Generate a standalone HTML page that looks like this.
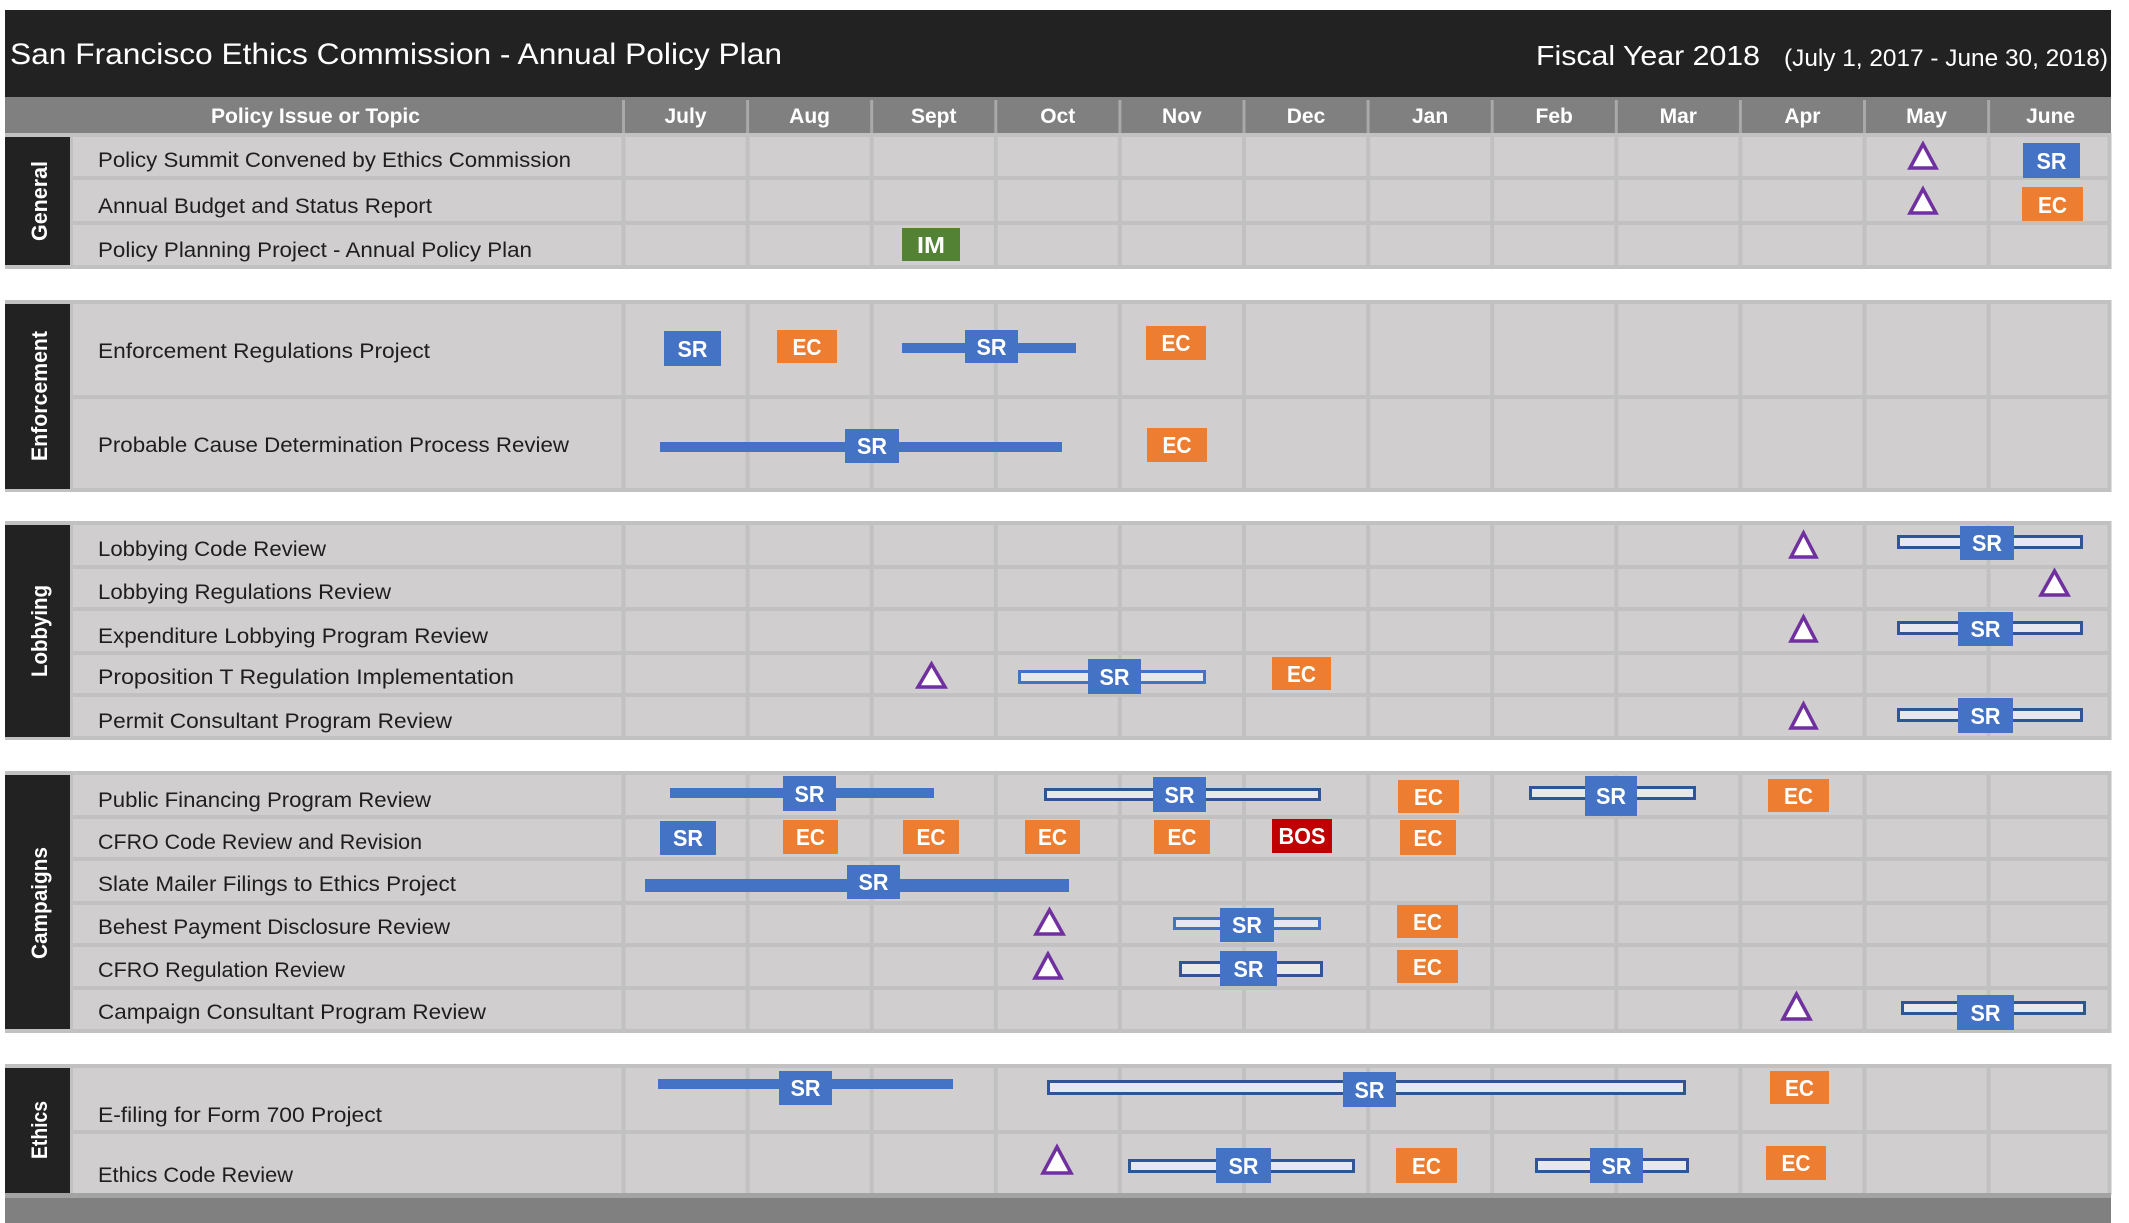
<!DOCTYPE html>
<html><head><meta charset="utf-8"><style>
html,body{margin:0;padding:0;background:#fff;}
svg{display:block;}
text{font-family:"Liberation Sans",sans-serif;}
.lbl{font-size:21px;fill:#1e1e1e;}
.mon{font-size:21px;font-weight:bold;fill:#fff;text-anchor:middle;}
.sec{font-size:22px;font-weight:bold;fill:#fff;text-anchor:middle;}
.bt{font-size:23px;font-weight:bold;fill:#fff;text-anchor:middle;}
.sr{fill:#4472c4;}
.ec{fill:#ed7d31;}
.tri{fill:#fff;stroke:#7030a0;stroke-width:3.5;stroke-linejoin:miter;}
.hol{fill:#e6e8ee;stroke:#2f5597;stroke-width:3;}
.hol2{fill:#e6e8ee;stroke:#4472c4;stroke-width:3;}
.grid{stroke:#c2c1c1;stroke-width:4;fill:none;}
</style></head><body>
<svg width="2129" height="1223" viewBox="0 0 2129 1223" xmlns="http://www.w3.org/2000/svg">
<rect x="0" y="0" width="2129" height="1223" fill="#fff"/>
<!-- title bar -->
<rect x="5" y="10" width="2106" height="87" fill="#222"/>
<text x="10" y="64" font-size="30" fill="#fff" textLength="772" lengthAdjust="spacingAndGlyphs">San Francisco Ethics Commission - Annual Policy Plan</text>
<text x="1536" y="65" font-size="28" fill="#fff" textLength="224" lengthAdjust="spacingAndGlyphs">Fiscal Year 2018</text>
<text x="1784" y="66" font-size="24" fill="#fff" textLength="324" lengthAdjust="spacingAndGlyphs">(July 1, 2017 - June 30, 2018)</text>
<!-- header -->
<rect x="5" y="97" width="2106" height="36" fill="#808080"/>
<path d="M623.5 100V133M747.6 100V133M871.7 100V133M995.8 100V133M1119.9 100V133M1244 100V133M1368.1 100V133M1492.2 100V133M1616.3 100V133M1740.4 100V133M1864.5 100V133M1988.6 100V133" stroke="#a9a9a9" stroke-width="3"/>
<text x="315.5" y="123" class="mon" textLength="209" lengthAdjust="spacingAndGlyphs">Policy Issue or Topic</text>
<text x="685.5" y="123" class="mon">July</text>
<text x="809.6" y="123" class="mon">Aug</text>
<text x="933.7" y="123" class="mon">Sept</text>
<text x="1057.8" y="123" class="mon">Oct</text>
<text x="1181.9" y="123" class="mon">Nov</text>
<text x="1306" y="123" class="mon">Dec</text>
<text x="1430.1" y="123" class="mon">Jan</text>
<text x="1554.2" y="123" class="mon">Feb</text>
<text x="1678.3" y="123" class="mon">Mar</text>
<text x="1802.4" y="123" class="mon">Apr</text>
<text x="1926.5" y="123" class="mon">May</text>
<text x="2050.6" y="123" class="mon">June</text>

<!-- body background -->
<rect x="5" y="133" width="2106" height="1062" fill="#d0cece"/>
<!-- vertical grid -->
<path class="grid" d="M71 133V1195M623.5 133V1195M747.6 133V1195M871.7 133V1195M995.8 133V1195M1119.9 133V1195M1244 133V1195M1368.1 133V1195M1492.2 133V1195M1616.3 133V1195M1740.4 133V1195M1864.5 133V1195M1988.6 133V1195M2109.5 133V1195"/>
<!-- horizontal grid -->
<path class="grid" d="M5 135H2111M70 178H2111M70 223H2111M5 267H2111
M5 302H2111M70 397H2111M5 490H2111
M5 523H2111M70 567H2111M70 609H2111M70 653H2111M70 695H2111M5 738H2111
M5 773H2111M70 817H2111M70 859H2111M70 903H2111M70 945H2111M70 988H2111M5 1031H2111
M5 1066H2111M70 1132H2111"/>
<!-- white gaps -->
<rect x="0" y="269" width="2129" height="31" fill="#fff"/>
<rect x="0" y="492" width="2129" height="29" fill="#fff"/>
<rect x="0" y="740" width="2129" height="31" fill="#fff"/>
<rect x="0" y="1033" width="2129" height="31" fill="#fff"/>
<!-- bottom bar -->
<rect x="5" y="1193" width="2106" height="30" fill="#808080"/>
<rect x="5" y="1193" width="2106" height="5" fill="#a3a3a3"/>

<!-- section label boxes -->
<rect x="5" y="137" width="65" height="128" fill="#222"/>
<rect x="5" y="304" width="65" height="185" fill="#222"/>
<rect x="5" y="525" width="65" height="212" fill="#222"/>
<rect x="5" y="775" width="65" height="254" fill="#222"/>
<rect x="5" y="1068" width="65" height="125" fill="#222"/>
<text class="sec" transform="translate(47,201) rotate(-90)" textLength="80" lengthAdjust="spacingAndGlyphs">General</text>
<text class="sec" transform="translate(47,396) rotate(-90)" textLength="130" lengthAdjust="spacingAndGlyphs">Enforcement</text>
<text class="sec" transform="translate(47,631) rotate(-90)" textLength="92" lengthAdjust="spacingAndGlyphs">Lobbying</text>
<text class="sec" transform="translate(47,903) rotate(-90)" textLength="112" lengthAdjust="spacingAndGlyphs">Campaigns</text>
<text class="sec" transform="translate(47,1130) rotate(-90)" textLength="58" lengthAdjust="spacingAndGlyphs">Ethics</text>

<!-- row labels -->
<text x="98" y="167" class="lbl" textLength="473" lengthAdjust="spacingAndGlyphs">Policy Summit Convened by Ethics Commission</text>
<text x="98" y="213" class="lbl" textLength="334" lengthAdjust="spacingAndGlyphs">Annual Budget and Status Report</text>
<text x="98" y="257" class="lbl" textLength="434" lengthAdjust="spacingAndGlyphs">Policy Planning Project - Annual Policy Plan</text>
<text x="98" y="358" class="lbl" textLength="332" lengthAdjust="spacingAndGlyphs">Enforcement Regulations Project</text>
<text x="98" y="452" class="lbl" textLength="471" lengthAdjust="spacingAndGlyphs">Probable Cause Determination Process Review</text>
<text x="98" y="556" class="lbl" textLength="228" lengthAdjust="spacingAndGlyphs">Lobbying Code Review</text>
<text x="98" y="599" class="lbl" textLength="293" lengthAdjust="spacingAndGlyphs">Lobbying Regulations Review</text>
<text x="98" y="643" class="lbl" textLength="390" lengthAdjust="spacingAndGlyphs">Expenditure Lobbying Program Review</text>
<text x="98" y="684" class="lbl" textLength="416" lengthAdjust="spacingAndGlyphs">Proposition T Regulation Implementation</text>
<text x="98" y="728" class="lbl" textLength="354" lengthAdjust="spacingAndGlyphs">Permit Consultant Program Review</text>
<text x="98" y="807" class="lbl" textLength="333" lengthAdjust="spacingAndGlyphs">Public Financing Program Review</text>
<text x="98" y="849" class="lbl" textLength="324" lengthAdjust="spacingAndGlyphs">CFRO Code Review and Revision</text>
<text x="98" y="891" class="lbl" textLength="358" lengthAdjust="spacingAndGlyphs">Slate Mailer Filings to Ethics Project</text>
<text x="98" y="934" class="lbl" textLength="352" lengthAdjust="spacingAndGlyphs">Behest Payment Disclosure Review</text>
<text x="98" y="977" class="lbl" textLength="247" lengthAdjust="spacingAndGlyphs">CFRO Regulation Review</text>
<text x="98" y="1019" class="lbl" textLength="388" lengthAdjust="spacingAndGlyphs">Campaign Consultant Program Review</text>
<text x="98" y="1122" class="lbl" textLength="284" lengthAdjust="spacingAndGlyphs">E-filing for Form 700 Project</text>
<text x="98" y="1182" class="lbl" textLength="195" lengthAdjust="spacingAndGlyphs">Ethics Code Review</text>

<!-- ===== General ===== -->
<polygon class="tri" points="1923,144 1910,168 1936,168"/>
<rect class="sr" x="2023" y="143" width="57" height="35"/><text class="bt" x="2051.5" y="169" textLength="30" lengthAdjust="spacingAndGlyphs">SR</text>
<polygon class="tri" points="1923,189 1910,213 1936,213"/>
<rect class="ec" x="2022" y="187" width="61" height="34"/><text class="bt" x="2052.5" y="213" textLength="29" lengthAdjust="spacingAndGlyphs">EC</text>
<rect x="902" y="228" width="58" height="33" fill="#548235"/><text class="bt" x="931" y="253" textLength="28" lengthAdjust="spacingAndGlyphs">IM</text>

<!-- ===== Enforcement ===== -->
<rect class="sr" x="664" y="331" width="57" height="35"/><text class="bt" x="692.5" y="357" textLength="30" lengthAdjust="spacingAndGlyphs">SR</text>
<rect class="ec" x="777" y="330" width="60" height="33"/><text class="bt" x="807" y="355" textLength="29" lengthAdjust="spacingAndGlyphs">EC</text>
<rect class="sr" x="902" y="343" width="174" height="10"/>
<rect class="sr" x="965" y="330" width="53" height="33"/><text class="bt" x="991.5" y="355" textLength="30" lengthAdjust="spacingAndGlyphs">SR</text>
<rect class="ec" x="1146" y="326" width="60" height="34"/><text class="bt" x="1176" y="351" textLength="29" lengthAdjust="spacingAndGlyphs">EC</text>
<rect class="sr" x="660" y="442" width="402" height="10"/>
<rect class="sr" x="845" y="429" width="54" height="34"/><text class="bt" x="872" y="454" textLength="30" lengthAdjust="spacingAndGlyphs">SR</text>
<rect class="ec" x="1147" y="428" width="60" height="34"/><text class="bt" x="1177" y="453" textLength="29" lengthAdjust="spacingAndGlyphs">EC</text>

<!-- ===== Lobbying ===== -->
<polygon class="tri" points="1803.5,533 1791,557 1816,557"/>
<rect class="hol" x="1898.5" y="536.5" width="183" height="11"/>
<rect class="sr" x="1960" y="526" width="54" height="34"/><text class="bt" x="1987" y="551" textLength="30" lengthAdjust="spacingAndGlyphs">SR</text>
<polygon class="tri" points="2054.5,571 2041,595 2068,595"/>
<polygon class="tri" points="1803.5,617 1791,641 1816,641"/>
<rect class="hol" x="1898.5" y="622.5" width="183" height="11"/>
<rect class="sr" x="1958" y="612" width="55" height="34"/><text class="bt" x="1985.5" y="637" textLength="30" lengthAdjust="spacingAndGlyphs">SR</text>
<polygon class="tri" points="931.5,664 918,687 945,687"/>
<rect class="hol2" x="1019.5" y="671.5" width="185" height="11"/>
<rect class="sr" x="1088" y="659" width="53" height="35"/><text class="bt" x="1114.5" y="685" textLength="30" lengthAdjust="spacingAndGlyphs">SR</text>
<rect class="ec" x="1272" y="657" width="59" height="33"/><text class="bt" x="1301.5" y="682" textLength="29" lengthAdjust="spacingAndGlyphs">EC</text>
<polygon class="tri" points="1803.5,704 1791,728 1816,728"/>
<rect class="hol" x="1898.5" y="709.5" width="183" height="11"/>
<rect class="sr" x="1958" y="698" width="55" height="35"/><text class="bt" x="1985.5" y="724" textLength="30" lengthAdjust="spacingAndGlyphs">SR</text>

<!-- ===== Campaigns ===== -->
<rect class="sr" x="670" y="788" width="264" height="10"/>
<rect class="sr" x="783" y="776" width="53" height="35"/><text class="bt" x="809.5" y="802" textLength="30" lengthAdjust="spacingAndGlyphs">SR</text>
<rect class="hol" x="1045.5" y="789.5" width="274" height="10"/>
<rect class="sr" x="1153" y="777" width="53" height="35"/><text class="bt" x="1179.5" y="803" textLength="30" lengthAdjust="spacingAndGlyphs">SR</text>
<rect class="ec" x="1398" y="780" width="61" height="33"/><text class="bt" x="1428.5" y="805" textLength="29" lengthAdjust="spacingAndGlyphs">EC</text>
<rect class="hol" x="1530.5" y="787.5" width="164" height="11"/>
<rect class="sr" x="1585" y="776" width="52" height="40"/><text class="bt" x="1611" y="804" textLength="30" lengthAdjust="spacingAndGlyphs">SR</text>
<rect class="ec" x="1768" y="779" width="61" height="33"/><text class="bt" x="1798.5" y="804" textLength="29" lengthAdjust="spacingAndGlyphs">EC</text>

<rect class="sr" x="660" y="821" width="56" height="34"/><text class="bt" x="688" y="846" textLength="30" lengthAdjust="spacingAndGlyphs">SR</text>
<rect class="ec" x="783" y="820" width="55" height="34"/><text class="bt" x="810.5" y="845" textLength="29" lengthAdjust="spacingAndGlyphs">EC</text>
<rect class="ec" x="903" y="820" width="56" height="34"/><text class="bt" x="931" y="845" textLength="29" lengthAdjust="spacingAndGlyphs">EC</text>
<rect class="ec" x="1025" y="820" width="55" height="34"/><text class="bt" x="1052.5" y="845" textLength="29" lengthAdjust="spacingAndGlyphs">EC</text>
<rect class="ec" x="1154" y="820" width="56" height="34"/><text class="bt" x="1182" y="845" textLength="29" lengthAdjust="spacingAndGlyphs">EC</text>
<rect x="1272" y="819" width="60" height="34" fill="#c00000"/><text class="bt" x="1302" y="844" textLength="47" lengthAdjust="spacingAndGlyphs">BOS</text>
<rect class="ec" x="1400" y="820" width="56" height="35"/><text class="bt" x="1428" y="846" textLength="29" lengthAdjust="spacingAndGlyphs">EC</text>

<rect class="sr" x="645" y="879" width="424" height="13"/>
<rect class="sr" x="847" y="865" width="53" height="34"/><text class="bt" x="873.5" y="890" textLength="30" lengthAdjust="spacingAndGlyphs">SR</text>

<polygon class="tri" points="1049.5,910 1036,934 1063,934"/>
<rect class="hol2" x="1174.5" y="918.5" width="145" height="10"/>
<rect class="sr" x="1220" y="908" width="54" height="34"/><text class="bt" x="1247" y="933" textLength="30" lengthAdjust="spacingAndGlyphs">SR</text>
<rect class="ec" x="1397" y="905" width="61" height="33"/><text class="bt" x="1427.5" y="930" textLength="29" lengthAdjust="spacingAndGlyphs">EC</text>

<polygon class="tri" points="1048,954 1035,978 1061,978"/>
<rect class="hol" x="1180.5" y="962.5" width="141" height="13"/>
<rect class="sr" x="1220" y="951" width="57" height="35"/><text class="bt" x="1248.5" y="977" textLength="30" lengthAdjust="spacingAndGlyphs">SR</text>
<rect class="ec" x="1397" y="950" width="61" height="33"/><text class="bt" x="1427.5" y="975" textLength="29" lengthAdjust="spacingAndGlyphs">EC</text>

<polygon class="tri" points="1796.5,994 1783,1019 1810,1019"/>
<rect class="hol" x="1902.5" y="1002.5" width="182" height="11"/>
<rect class="sr" x="1957" y="995" width="57" height="35"/><text class="bt" x="1985.5" y="1021" textLength="30" lengthAdjust="spacingAndGlyphs">SR</text>

<!-- ===== Ethics ===== -->
<rect class="sr" x="658" y="1079" width="295" height="10"/>
<rect class="sr" x="779" y="1071" width="53" height="34"/><text class="bt" x="805.5" y="1096" textLength="30" lengthAdjust="spacingAndGlyphs">SR</text>
<rect class="hol" x="1048.5" y="1081.5" width="636" height="12"/>
<rect class="sr" x="1343" y="1072" width="53" height="35"/><text class="bt" x="1369.5" y="1098" textLength="30" lengthAdjust="spacingAndGlyphs">SR</text>
<rect class="ec" x="1770" y="1071" width="59" height="33"/><text class="bt" x="1799.5" y="1096" textLength="29" lengthAdjust="spacingAndGlyphs">EC</text>

<polygon class="tri" points="1057,1147 1043,1173 1071,1173"/>
<rect class="hol" x="1129.5" y="1160.5" width="224" height="11"/>
<rect class="sr" x="1216" y="1148" width="55" height="35"/><text class="bt" x="1243.5" y="1174" textLength="30" lengthAdjust="spacingAndGlyphs">SR</text>
<rect class="ec" x="1396" y="1148" width="61" height="35"/><text class="bt" x="1426.5" y="1174" textLength="29" lengthAdjust="spacingAndGlyphs">EC</text>
<rect class="hol" x="1536.5" y="1159.5" width="151" height="12"/>
<rect class="sr" x="1590" y="1148" width="53" height="35"/><text class="bt" x="1616.5" y="1174" textLength="30" lengthAdjust="spacingAndGlyphs">SR</text>
<rect class="ec" x="1766" y="1146" width="60" height="34"/><text class="bt" x="1796" y="1171" textLength="29" lengthAdjust="spacingAndGlyphs">EC</text>
</svg>
</body></html>
